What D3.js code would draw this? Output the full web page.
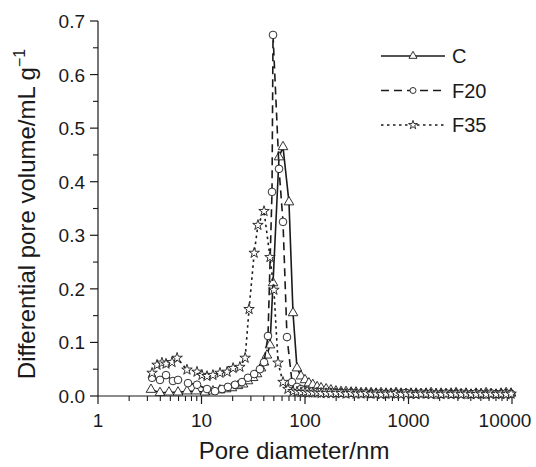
<!DOCTYPE html>
<html>
<head>
<meta charset="utf-8">
<script src="https://cdn.jsdelivr.net/npm/d3@7"></script>
<style>
  body { margin: 0; background: #fff; }
  svg text { font-family: "Liberation Sans", Arial, Helvetica, sans-serif; fill: #1a1a1a; }
</style>
</head>
<body>
<svg id="chart" width="536" height="467"></svg>
<script>
// pore diameter (nm) and differential pore volume (mL/g)
var cDiam = [3.25, 3.97, 4.85, 5.93, 7.24, 8.85, 10.8, 12.9, 15.1, 17.3, 19.7, 22.5, 25.2, 28.1, 31.5,
  34.4, 37.6, 40.2, 42.9, 45.9, 49.1, 56.1, 61.3, 70.0, 76.6, 83.7, 91.5, 100, 109, 119, 131, 143, 160, 178, 199];
var cVol = [0.012, 0.006, 0.007, 0.007, 0.009, 0.009, 0.007, 0.009, 0.011, 0.013, 0.015, 0.019, 0.022, 0.028, 0.034,
  0.041, 0.052, 0.063, 0.076, 0.095, 0.211, 0.446, 0.465, 0.362, 0.155, 0.052, 0.037, 0.030, 0.024, 0.021, 0.017, 0.015, 0.013, 0.011, 0.009];

var f20Diam = [3.33, 3.97, 4.54, 5.30, 5.93, 7.41, 9.05, 11.3, 13.5, 15.8, 18.0, 21.1, 24.6, 28.1, 32.3,
  36.7, 40.2, 43.9, 48.0, 49.1, 56.1, 61.3, 67.0, 74.9, 83.7, 91.5, 100, 109, 119, 131, 143, 160, 178, 199];
var f20Vol = [0.034, 0.030, 0.039, 0.028, 0.030, 0.024, 0.021, 0.013, 0.009, 0.013, 0.017, 0.021, 0.026, 0.034, 0.041,
  0.050, 0.063, 0.112, 0.381, 0.674, 0.424, 0.325, 0.110, 0.026, 0.017, 0.013, 0.011, 0.010, 0.009, 0.008, 0.008, 0.007, 0.007, 0.006];

var f35Diam = [3.33, 3.72, 4.15, 4.54, 5.19, 5.81, 7.24, 9.05, 10.1, 11.3, 12.9, 15.1, 17.7, 20.2, 23.5,
  26.4, 28.8, 32.3, 35.1, 40.2, 45.9, 50.1, 54.9, 61.3, 68.4, 76.6, 83.7, 91.5, 100, 109, 119, 131, 143, 160, 178, 199];
var f35Vol = [0.043, 0.058, 0.062, 0.060, 0.063, 0.071, 0.049, 0.045, 0.039, 0.037, 0.039, 0.043, 0.045, 0.052, 0.054,
  0.071, 0.162, 0.267, 0.319, 0.345, 0.259, 0.198, 0.062, 0.026, 0.013, 0.009, 0.008, 0.007, 0.007, 0.006, 0.006, 0.006, 0.005, 0.005, 0.005, 0.005];

// macropore tail (shared diameters)
var tailDiam = [223, 249, 279, 311, 348, 389, 435, 486, 543, 607, 678, 758, 847, 947, 1058, 1183, 1322, 1478,
  1652, 1846, 2064, 2306, 2578, 2881, 3220, 3600, 4023, 4497, 5026, 5618, 6279, 7018, 7844, 8768, 9800];
var cTail = [0.008, 0.008, 0.007, 0.007, 0.006, 0.006, 0.006, 0.005, 0.006, 0.005, 0.005, 0.006, 0.005, 0.004, 0.005, 0.005, 0.004, 0.005,
  0.006, 0.004, 0.005, 0.004, 0.005, 0.006, 0.004, 0.005, 0.003, 0.005, 0.004, 0.006, 0.004, 0.003, 0.005, 0.006, 0.005];
var f20Tail = [0.006, 0.005, 0.006, 0.005, 0.005, 0.005, 0.004, 0.005, 0.005, 0.004, 0.005, 0.004, 0.005, 0.006, 0.004, 0.004, 0.005, 0.004,
  0.005, 0.003, 0.004, 0.005, 0.004, 0.004, 0.005, 0.003, 0.004, 0.005, 0.004, 0.003, 0.005, 0.004, 0.004, 0.005, 0.004];
var f35Tail = [0.005, 0.004, 0.005, 0.004, 0.004, 0.005, 0.004, 0.004, 0.003, 0.004, 0.004, 0.005, 0.003, 0.004, 0.004, 0.003, 0.004, 0.004,
  0.003, 0.004, 0.003, 0.004, 0.003, 0.004, 0.003, 0.004, 0.003, 0.003, 0.004, 0.003, 0.004, 0.003, 0.004, 0.003, 0.004];

var seriesNames = ['C', 'F20', 'F35'];
var xTickValues = [1, 10, 100, 1000, 10000];
var yTickValues = [0, 0.1, 0.2, 0.3, 0.4, 0.5, 0.6, 0.7];

var zip = function (d, v) {
  return d.map(function (x, i) { return { d: x, v: v[i] }; });
};

var series = [
  { name: seriesNames[0], pts: zip(cDiam.concat(tailDiam), cVol.concat(cTail)), dash: null, sym: 'tri' },
  { name: seriesNames[1], pts: zip(f20Diam.concat(tailDiam), f20Vol.concat(f20Tail)), dash: '8,5', sym: 'circ' },
  { name: seriesNames[2], pts: zip(f35Diam.concat(tailDiam), f35Vol.concat(f35Tail)), dash: '2.5,3.5', sym: 'star' }
];

var ink = '#1a1a1a';
var svg = d3.select('#chart');

var x = d3.scaleLog().domain([1, 10000]).range([98, 512]);
var y = d3.scaleLinear().domain([0, 0.7]).range([396, 21]);

var symbols = {
  tri: d3.symbol().type(d3.symbolTriangle).size(40),
  circ: d3.symbol().type(d3.symbolCircle).size(46),
  star: d3.symbol().type(d3.symbolStar).size(34)
};
var legendSymbols = {
  tri: d3.symbol().type(d3.symbolTriangle).size(28),
  circ: d3.symbol().type(d3.symbolCircle).size(28),
  star: d3.symbol().type(d3.symbolStar).size(24)
};

// x axis
var minorX = [];
[1, 10, 100, 1000].forEach(function (dec) {
  for (var k = 2; k <= 9; k++) minorX.push(dec * k);
});
var xAxis = svg.append('g').attr('transform', 'translate(0,396)');
xAxis.append('line').attr('x1', x(1)).attr('x2', x(10000)).attr('stroke', ink).attr('stroke-width', 1.2);
xAxis.selectAll('line.minor').data(minorX).enter().append('line')
  .attr('class', 'minor')
  .attr('x1', function (d) { return x(d); }).attr('x2', function (d) { return x(d); })
  .attr('y1', 0).attr('y2', 5)
  .attr('stroke', ink).attr('stroke-width', 1.1);
xAxis.selectAll('line.major').data(xTickValues).enter().append('line')
  .attr('class', 'major')
  .attr('x1', function (d) { return x(d); }).attr('x2', function (d) { return x(d); })
  .attr('y1', 0).attr('y2', 8)
  .attr('stroke', ink).attr('stroke-width', 1.2);
xAxis.selectAll('text').data(xTickValues).enter().append('text')
  .attr('x', function (d) { return Math.min(x(d), 505); })   // last label pulled in to stay on the page
  .attr('y', 31)
  .attr('text-anchor', 'middle')
  .style('font-size', '19px')
  .text(function (d) { return d; });

// y axis
var minorY = [0.05, 0.15, 0.25, 0.35, 0.45, 0.55, 0.65];
var yAxis = svg.append('g').attr('transform', 'translate(98,0)');
yAxis.append('line').attr('y1', y(0)).attr('y2', y(0.7)).attr('stroke', ink).attr('stroke-width', 1.2);
yAxis.selectAll('line.minor').data(minorY).enter().append('line')
  .attr('class', 'minor')
  .attr('y1', function (d) { return y(d); }).attr('y2', function (d) { return y(d); })
  .attr('x1', 0).attr('x2', -5)
  .attr('stroke', ink).attr('stroke-width', 1.1);
yAxis.selectAll('line.major').data(yTickValues).enter().append('line')
  .attr('class', 'major')
  .attr('y1', function (d) { return y(d); }).attr('y2', function (d) { return y(d); })
  .attr('x1', 0).attr('x2', -8)
  .attr('stroke', ink).attr('stroke-width', 1.2);
yAxis.selectAll('text').data(yTickValues).enter().append('text')
  .attr('x', -13)
  .attr('y', function (d) { return y(d) + 7; })
  .attr('text-anchor', 'end')
  .style('font-size', '19px')
  .text(function (d) { return d.toFixed(1); });

// axis titles
svg.append('text')
  .attr('x', 294).attr('y', 459)
  .attr('text-anchor', 'middle')
  .style('font-size', '24px')
  .text('Pore diameter/nm');

var yTitle = svg.append('text')
  .attr('transform', 'translate(35,214) rotate(-90)')
  .attr('text-anchor', 'middle')
  .style('font-size', '24px');
yTitle.append('tspan').text('Differential pore volume/mL g');
yTitle.append('tspan').attr('dy', -10).style('font-size', '16px').text('\u22121');

// series lines + markers
var line = d3.line()
  .x(function (d) { return x(d.d); })
  .y(function (d) { return y(d.v); });

series.forEach(function (s) {
  svg.append('path')
    .datum(s.pts)
    .attr('d', line)
    .attr('fill', 'none')
    .attr('stroke', ink)
    .attr('stroke-width', 1.6)
    .attr('stroke-dasharray', s.dash);

  svg.append('g').selectAll('path')
    .data(s.pts)
    .enter().append('path')
    .attr('d', symbols[s.sym])
    .attr('transform', function (d) { return 'translate(' + x(d.d) + ',' + y(d.v) + ')'; })
    .attr('fill', '#fff')
    .attr('stroke', ink)
    .attr('stroke-width', 0.9);
});

// legend
var legend = svg.append('g').selectAll('g')
  .data(series)
  .enter().append('g')
  .attr('transform', function (d, i) { return 'translate(381,' + (56 + i * 34.5) + ')'; });
legend.append('line')
  .attr('x1', 0).attr('x2', 64)
  .attr('stroke', ink).attr('stroke-width', 1.6)
  .attr('stroke-dasharray', function (d) { return d.dash; });
legend.append('path')
  .attr('d', function (d) { return legendSymbols[d.sym](); })
  .attr('transform', 'translate(32,0)')
  .attr('fill', '#fff').attr('stroke', ink).attr('stroke-width', 0.9);
legend.append('text')
  .attr('x', 71).attr('y', 7)
  .style('font-size', '20px')
  .text(function (d) { return d.name; });
</script>
</body>
</html>
